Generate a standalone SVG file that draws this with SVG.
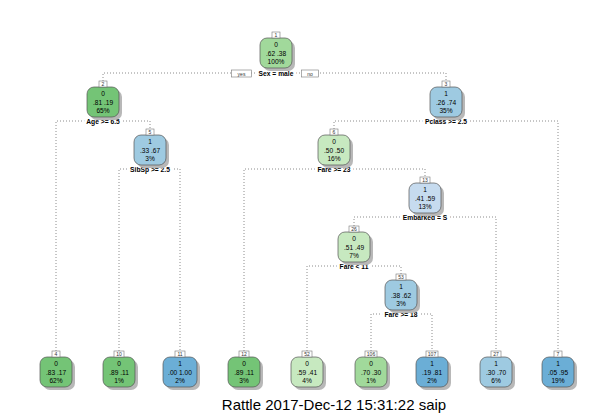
<svg xmlns="http://www.w3.org/2000/svg" width="614" height="418" viewBox="0 0 614 418">
<style>
.bg{fill:#ffffff}
.sh{fill:#b8b8b8}
.bx{stroke:#555555;stroke-width:0.7}
.g1{fill:#74c476}.g2{fill:#a1d99b}.g3{fill:#c7e9c0}
.b1{fill:#6baed6}.b2{fill:#9ecae1}.b3{fill:#c6dbef}
.t{font-family:"Liberation Sans",Arial,sans-serif;font-size:6.6px;fill:#000;text-anchor:middle}
.nb{fill:#fff;stroke:#777;stroke-width:0.6}
.nt{font-family:"Liberation Sans",Arial,sans-serif;font-size:5px;fill:#333;text-anchor:middle}
.sp{font-family:"Liberation Sans",Arial,sans-serif;font-size:6.7px;font-weight:bold;fill:#000;text-anchor:middle;stroke:#fff;stroke-width:6;paint-order:stroke;stroke-linejoin:round}
.ln{fill:none;stroke:#808080;stroke-width:0.9;stroke-dasharray:1 2}
.title{font-family:"Liberation Sans",Arial,sans-serif;font-size:15px;fill:#000;text-anchor:middle}
</style>
<rect class="bg" x="0" y="0" width="614" height="418"/>
<g id="connectors">
<path class="ln" d="M103 81V73H446V81"/>
<path class="ln" d="M56 351V121H150V129"/>
<path class="ln" d="M119 351V169H180V351"/>
<path class="ln" d="M334 129V121H558V351"/>
<path class="ln" d="M244 351V169H425V177"/>
<path class="ln" d="M354 226V217H496V351"/>
<path class="ln" d="M307 351V266H401V274"/>
<path class="ln" d="M371 351V314H432V351"/>
</g>
<g id="splits">
<text class="sp" x="276" y="75.5">Sex = male</text>
<text class="sp" x="103" y="124">Age &gt;= 6.5</text>
<text class="sp" x="150" y="172">SibSp &gt;= 2.5</text>
<text class="sp" x="446" y="124">Pclass &gt;= 2.5</text>
<text class="sp" x="334" y="172">Fare &gt;= 23</text>
<text class="sp" x="425" y="220">Embarked = S</text>
<text class="sp" x="354" y="269">Fare &lt; 11</text>
<text class="sp" x="401" y="317">Fare &gt;= 18</text>
</g>
<g id="yesno">
<rect class="nb" x="231.5" y="70" width="20" height="7"/>
<text class="nt" x="241.5" y="75.5">yes</text>
<rect class="nb" x="301.5" y="70" width="17" height="7"/>
<text class="nt" x="310" y="75.5">no</text>
</g>
<g id="node1">
<rect class="sh" x="263" y="41" width="32" height="30" rx="7"/>
<rect class="bx g2" x="260" y="38" width="32" height="30" rx="7"/>
<rect class="nb" x="272" y="32" width="8" height="6"/><text class="nt" x="276" y="36.8">1</text>
<text class="t" x="276" y="47">0</text><text class="t" x="276" y="55.5">.62  .38</text><text class="t" x="276" y="64">100%</text>
</g>
<g id="node2">
<rect class="sh" x="90" y="90" width="32" height="30" rx="7"/>
<rect class="bx g1" x="87" y="87" width="32" height="30" rx="7"/>
<rect class="nb" x="99" y="81" width="8" height="6"/><text class="nt" x="103" y="85.8">2</text>
<text class="t" x="103" y="96">0</text><text class="t" x="103" y="104.5">.81  .19</text><text class="t" x="103" y="113">65%</text>
</g>
<g id="node3">
<rect class="sh" x="433" y="90" width="32" height="30" rx="7"/>
<rect class="bx b2" x="430" y="87" width="32" height="30" rx="7"/>
<rect class="nb" x="442" y="81" width="8" height="6"/><text class="nt" x="446" y="85.8">3</text>
<text class="t" x="446" y="96">1</text><text class="t" x="446" y="104.5">.26  .74</text><text class="t" x="446" y="113">35%</text>
</g>
<g id="node5">
<rect class="sh" x="137" y="138" width="32" height="30" rx="7"/>
<rect class="bx b2" x="134" y="135" width="32" height="30" rx="7"/>
<rect class="nb" x="146" y="129" width="8" height="6"/><text class="nt" x="150" y="133.8">5</text>
<text class="t" x="150" y="144">1</text><text class="t" x="150" y="152.5">.33  .67</text><text class="t" x="150" y="161">3%</text>
</g>
<g id="node6">
<rect class="sh" x="321" y="138" width="32" height="30" rx="7"/>
<rect class="bx g3" x="318" y="135" width="32" height="30" rx="7"/>
<rect class="nb" x="330" y="129" width="8" height="6"/><text class="nt" x="334" y="133.8">6</text>
<text class="t" x="334" y="144">0</text><text class="t" x="334" y="152.5">.50  .50</text><text class="t" x="334" y="161">16%</text>
</g>
<g id="node13">
<rect class="sh" x="412" y="186" width="32" height="30" rx="7"/>
<rect class="bx b3" x="409" y="183" width="32" height="30" rx="7"/>
<rect class="nb" x="420" y="177" width="10" height="6"/><text class="nt" x="425" y="181.8">13</text>
<text class="t" x="425" y="192">1</text><text class="t" x="425" y="200.5">.41  .59</text><text class="t" x="425" y="209">13%</text>
</g>
<g id="node26">
<rect class="sh" x="341" y="235" width="32" height="30" rx="7"/>
<rect class="bx g3" x="338" y="232" width="32" height="30" rx="7"/>
<rect class="nb" x="349" y="226" width="10" height="6"/><text class="nt" x="354" y="230.8">26</text>
<text class="t" x="354" y="241">0</text><text class="t" x="354" y="249.5">.51  .49</text><text class="t" x="354" y="258">7%</text>
</g>
<g id="node53">
<rect class="sh" x="388" y="283" width="32" height="30" rx="7"/>
<rect class="bx b2" x="385" y="280" width="32" height="30" rx="7"/>
<rect class="nb" x="396" y="274" width="10" height="6"/><text class="nt" x="401" y="278.8">53</text>
<text class="t" x="401" y="289">1</text><text class="t" x="401" y="297.5">.38  .62</text><text class="t" x="401" y="306">3%</text>
</g>
<g id="node4">
<rect class="sh" x="43" y="360" width="32" height="30" rx="7"/>
<rect class="bx g1" x="40" y="357" width="32" height="30" rx="7"/>
<rect class="nb" x="52" y="351" width="8" height="6"/><text class="nt" x="56" y="355.8">4</text>
<text class="t" x="56" y="366">0</text><text class="t" x="56" y="374.5">.83  .17</text><text class="t" x="56" y="383">62%</text>
</g>
<g id="node10">
<rect class="sh" x="106" y="360" width="32" height="30" rx="7"/>
<rect class="bx g1" x="103" y="357" width="32" height="30" rx="7"/>
<rect class="nb" x="114" y="351" width="10" height="6"/><text class="nt" x="119" y="355.8">10</text>
<text class="t" x="119" y="366">0</text><text class="t" x="119" y="374.5">.89  .11</text><text class="t" x="119" y="383">1%</text>
</g>
<g id="node11">
<rect class="sh" x="166" y="360" width="34" height="30" rx="7"/>
<rect class="bx b1" x="163" y="357" width="34" height="30" rx="7"/>
<rect class="nb" x="175" y="351" width="10" height="6"/><text class="nt" x="180" y="355.8">11</text>
<text class="t" x="180" y="366">1</text><text class="t" x="180" y="374.5">.00  1.00</text><text class="t" x="180" y="383">2%</text>
</g>
<g id="node12">
<rect class="sh" x="231" y="360" width="32" height="30" rx="7"/>
<rect class="bx g1" x="228" y="357" width="32" height="30" rx="7"/>
<rect class="nb" x="239" y="351" width="10" height="6"/><text class="nt" x="244" y="355.8">12</text>
<text class="t" x="244" y="366">0</text><text class="t" x="244" y="374.5">.89  .11</text><text class="t" x="244" y="383">3%</text>
</g>
<g id="node52">
<rect class="sh" x="294" y="360" width="32" height="30" rx="7"/>
<rect class="bx g3" x="291" y="357" width="32" height="30" rx="7"/>
<rect class="nb" x="302" y="351" width="10" height="6"/><text class="nt" x="307" y="355.8">52</text>
<text class="t" x="307" y="366">0</text><text class="t" x="307" y="374.5">.59  .41</text><text class="t" x="307" y="383">4%</text>
</g>
<g id="node106">
<rect class="sh" x="358" y="360" width="32" height="30" rx="7"/>
<rect class="bx g2" x="355" y="357" width="32" height="30" rx="7"/>
<rect class="nb" x="365" y="351" width="12" height="6"/><text class="nt" x="371" y="355.8">106</text>
<text class="t" x="371" y="366">0</text><text class="t" x="371" y="374.5">.70  .30</text><text class="t" x="371" y="383">1%</text>
</g>
<g id="node107">
<rect class="sh" x="419" y="360" width="32" height="30" rx="7"/>
<rect class="bx b1" x="416" y="357" width="32" height="30" rx="7"/>
<rect class="nb" x="426" y="351" width="12" height="6"/><text class="nt" x="432" y="355.8">107</text>
<text class="t" x="432" y="366">1</text><text class="t" x="432" y="374.5">.19  .81</text><text class="t" x="432" y="383">2%</text>
</g>
<g id="node27">
<rect class="sh" x="483" y="360" width="32" height="30" rx="7"/>
<rect class="bx b2" x="480" y="357" width="32" height="30" rx="7"/>
<rect class="nb" x="491" y="351" width="10" height="6"/><text class="nt" x="496" y="355.8">27</text>
<text class="t" x="496" y="366">1</text><text class="t" x="496" y="374.5">.30  .70</text><text class="t" x="496" y="383">6%</text>
</g>
<g id="node7">
<rect class="sh" x="545" y="360" width="32" height="30" rx="7"/>
<rect class="bx b1" x="542" y="357" width="32" height="30" rx="7"/>
<rect class="nb" x="554" y="351" width="8" height="6"/><text class="nt" x="558" y="355.8">7</text>
<text class="t" x="558" y="366">1</text><text class="t" x="558" y="374.5">.05  .95</text><text class="t" x="558" y="383">19%</text>
</g>
<text class="title" x="334" y="410">Rattle 2017-Dec-12 15:31:22 saip</text>
</svg>
